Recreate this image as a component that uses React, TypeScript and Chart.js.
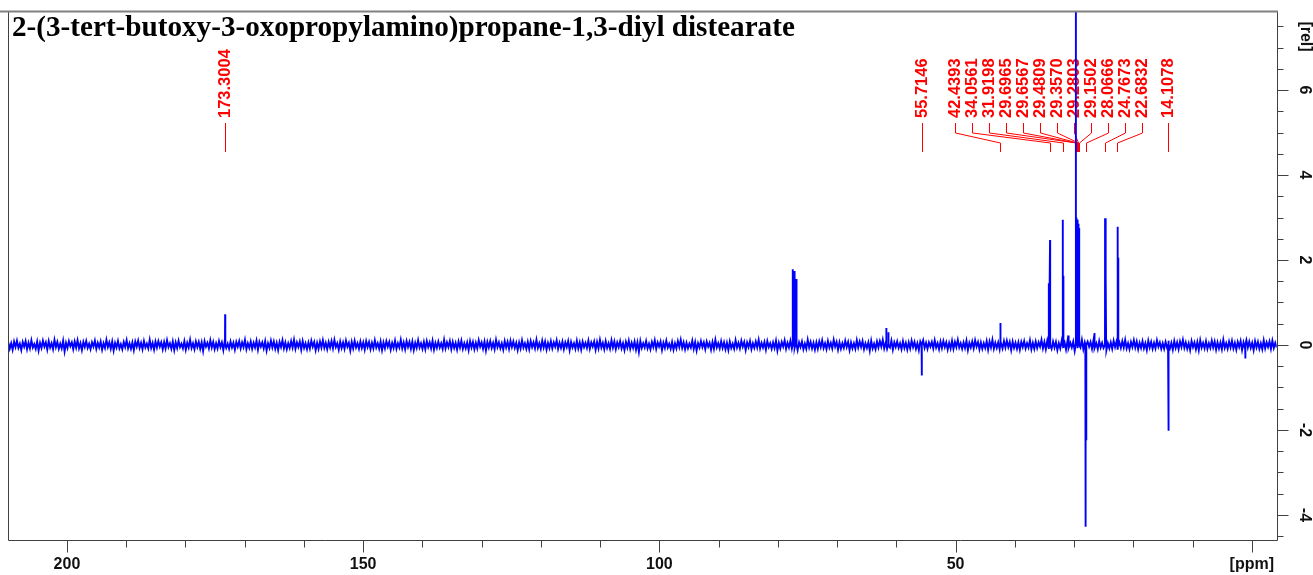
import React, { useEffect, useRef } from 'react';
import { Chart, registerables } from 'chart.js';

Chart.register(...registerables);

const TITLE = '2-(3-tert-butoxy-3-oxopropylamino)propane-1,3-diyl distearate';

// axis ranges (ppm is drawn reversed, high ppm on the left)
const X_MIN = -4.2;
const X_MAX = 209.9;
const Y_MIN = -4.59;
const Y_MAX = 7.86;

// tick labels
const xMajorTicks = [200, 150, 100, 50, 0];
const xMajorLabels = ['200', '150', '100', '50', '[ppm]'];
const xMinorStep = 10;
const yMajorTicks = [-4, -2, 0, 2, 4, 6];
const yMajorLabels = ['-4', '-2', '0', '2', '4', '6'];
const yMinorStep = 0.5;
const yUnitLabel = '[rel]';

// baseline noise, in hundredths of the [rel] unit, sampled evenly from X_MAX down to X_MIN
const baselineNoise = [
  6, -9, 4, -11, 8, -5, 10, -7, 3, -12, 7, -4, 9, -10, 5, -8, 11, -6, 2, -9,
  8, -13, 5, -7, 10, -4, 6, -11, 9, -6, 4, -10, 12, -5, 7, -9, 3, -8, 10, -15,
  5, -7, 9, -3, 6, -10, 8, -6, 11, -8, 4, -12, 7, -5, 9, -7, 3, -10, 6, -4,
  10, -9, 5, -6, 8, -11, 4, -7, 12, -5, 6, -9, 8, -13, 5, -6, 9, -8, 2, -10,
  7, -5, 11, -8, 4, -9, 6, -12, 8, -4, 10, -7, 5, -10, 9, -6, 3, -8, 12, -7,
  5, -11, 8, -6, 9, -4, 6, -10, 7, -8, 11, -5, 4, -9, 8, -12, 6, -7, 10, -5,
  3, -8, 9, -11, 5, -6, 12, -7, 4, -10, 8, -5, 7, -9, 6, -14, 9, -4, 5, -8,
  11, -6, 7, -10, 4, -8, 9, -5, 6, -12, 10, -7, 3, -9, 8, -6, 5, -11, 7, -4,
  9, -8, 6, -5, 12, -10, 4, -7, 8, -9, 5, -6, 10, -11, 7, -4, 6, -8, 9, -13,
  4, -7, 10, -6, 8, -9, 5, -12, 7, -5, 11, -8, 6, -10, 4, -7, 9, -6, 12, -9,
  6, -5, 8, -11, 9, -7, 4, -10, 6, -8, 10, -4, 7, -12, 5, -9, 8, -6, 11, -7,
  5, -10, 7, -6, 9, -8, 12, -5, 4, -11, 8, -7, 6, -9, 10, -4, 5, -13, 7, -8,
  10, -6, 4, -9, 8, -7, 6, -11, 9, -5, 7, -10, 5, -8, 11, -6, 4, -9, 8, -12,
  6, -8, 9, -4, 7, -11, 5, -7, 10, -9, 4, -6, 12, -8, 6, -10, 9, -5, 7, -9,
  8, -12, 5, -7, 11, -6, 4, -9, 7, -10, 9, -5, 6, -8, 10, -11, 5, -7, 8, -6,
  4, -9, 12, -8, 6, -5, 9, -10, 7, -7, 5, -11, 8, -6, 10, -9, 4, -8, 6, -12,
  9, -6, 7, -10, 5, -8, 11, -4, 6, -9, 8, -13, 7, -6, 9, -7, 5, -10, 12, -5,
  6, -8, 4, -11, 9, -6, 7, -9, 10, -5, 8, -7, 5, -12, 6, -8, 11, -6, 4, -9,
  7, -10, 9, -5, 6, -8, 12, -7, 4, -9, 10, -6, 8, -11, 5, -7, 9, -8, 6, -4,
  11, -9, 5, -7, 8, -10, 6, -5, 9, -12, 7, -6, 4, -9, 10, -8, 6, -11, 8, -5,
  5, -7, 10, -9, 6, -4, 8, -11, 7, -8, 12, -6, 5, -10, 9, -7, 4, -9, 11, -6,
  8, -10, 6, -5, 9, -8, 4, -12, 7, -6, 10, -9, 5, -7, 8, -11, 6, -16, 9, -7,
  4, -6, 9, -8, 3, -10, 7, -5, 11, -9, 6, -4, 8, -12, 5, -7, 10, -6, 3, -9,
  7, -11, 4, -8, 9, -5, 12, -7, 6, -10, 5, -8, 3, -6, 10, -9, 7, -13, 4, -6,
  9, -5, 6, -10, 8, -4, 5, -11, 7, -9, 12, -6, 4, -8, 9, -7, 6, -10, 5, -12,
  8, -7, 3, -9, 11, -6, 5, -8, 10, -4, 7, -12, 6, -5, 9, -10, 4, -7, 8, -6,
  12, -8, 5, -6, 7, -11, 9, -5, 4, -9, 6, -7, 10, -13, 5, -8, 7, -4, 11, -9,
  5, -6, 10, -8, 4, -7, 9, -12, 6, -5, 8, -10, 3, -9, 12, -6, 7, -8, 5, -11,
  6, -9, 8, -5, 11, -7, 4, -10, 9, -6, 5, -8, 12, -4, 7, -11, 6, -9, 4, -7,
  10, -5, 7, -12, 6, -8, 4, -9, 11, -6, 8, -5, 9, -10, 4, -7, 6, -13, 10, -8,
  3, -10, 8, -6, 9, -4, 12, -8, 5, -9, 7, -6, 10, -11, 6, -5, 8, -7, 4, -10,
  9, -7, 5, -11, 6, -8, 10, -5, 7, -9, 4, -12, 8, -6, 11, -7, 5, -9, 6, -4,
  7, -8, 11, -6, 4, -10, 8, -7, 9, -5, 6, -11, 5, -8, 10, -9, 7, -5, 12, -6,
  4, -9, 6, -7, 10, -12, 5, -6, 8, -8, 11, -4, 7, -10, 6, -9, 4, -7, 9, -11,
  8, -6, 12, -9, 5, -7, 6, -10, 4, -8, 9, -6, 10, -5, 7, -12, 8, -7, 5, -9,
  6, -11, 7, -5, 9, -8, 4, -6, 11, -10, 5, -9, 8, -7, 6, -4, 12, -8, 7, -10,
  10, -7, 5, -9, 8, -6, 7, -12, 4, -8, 10, -5, 6, -11, 9, -7, 5, -6, 8, -14,
  5, -8, 9, -6, 12, -10, 6, -7, 8, -4, 7, -9, 11, -8, 4, -10, 9, -6, 5, -7,
  7, -12, 4, -8, 6, -9, 10, -5, 8, -11, 6, -7, 9, -6, 12, -8, 4, -10, 7, -5,
  11, -6, 8, -10, 5, -7, 9, -8, 4, -12, 10, -6, 7, -9, 5, -8, 11, -4, 6, -9,
  4, -9, 7, -6, 10, -8, 5, -11, 9, -7, 6, -10, 8, -5, 12, -7, 6, -9, 4, -12,
  9, -5, 6, -10, 7, -12, 11, -6, 5, -8, 9, -9, 4, -7, 10, -6, 8, -11, 6, -8,
  6, -10, 12, -7, 4, -9, 8, -6, 10, -8, 5, -11, 7, -5, 9, -12, 6, -8, 11, -6,
  8, -7, 5, -12, 9, -6, 7, -9, 4, -10, 11, -8, 6, -5, 8, -9, 10, -7, 5, -6,
];

// peaks (ppm, height in [rel])
const peakPpm = [
  173.3, 77.5, 77.2, 76.85, 61.7, 61.35, 55.71, 42.44, 34.25, 34.06, 31.92, 31.8, 31.0,
  29.7, 29.66, 29.48, 29.36, 29.28, 29.15, 28.07, 27.95, 26.6, 24.77, 24.62, 22.68, 22.55,
  14.11, 14.02, 1.1,
];
const peakHeight = [
  0.72, 1.78, 1.74, 1.55, 0.4, 0.3, -0.72, 0.52, 1.45, 2.47, 2.95, 1.63, 0.22,
  10.0, 3.0, 2.95, 2.9, 2.85, 2.75, -4.28, -2.24, 0.28, 2.98, 1.64, 2.78, 2.05,
  -2.02, -1.35, -0.32,
];

// peak-pick labels
const peakLabels = [
  '173.3004', '55.7146', '42.4393', '34.0561', '31.9198', '29.6965', '29.6567', '29.4809',
  '29.3570', '29.2803', '29.1502', '28.0666', '24.7673', '22.6832', '14.1078',
];
const standaloneLabels = ['173.3004', '55.7146', '14.1078'];

// label layout constants
const LABEL_GROUP_START_PPM = 50.08;
const LABEL_SLOT = 17;
const LABEL_TEXT_BOTTOM = 118;
const LABEL_LINE_Y = [123, 133, 143, 152];

function buildSpectrum() {
  const pts: { x: number; y: number }[] = [];
  const n = baselineNoise.length;
  const step = (X_MAX - X_MIN) / (n - 1);
  for (let i = 0; i < n; i++) pts.push({ x: X_MAX - i * step, y: baselineNoise[i] / 100 });
  peakPpm.forEach((p, i) => {
    pts.push({ x: p + 0.03, y: 0 }, { x: p, y: peakHeight[i] }, { x: p - 0.03, y: 0 });
  });
  pts.sort((a, b) => b.x - a.x);
  return pts;
}

const snap = (v: number) => Math.round(v) + 0.5;
const AXIS_FONT = 'bold 16px "Liberation Sans", Arial, sans-serif';

const nmrPlugin = {
  id: 'nmrDecor',
  beforeDatasetsDraw(chart: any) {
    const ctx = chart.ctx as CanvasRenderingContext2D;
    const xs = chart.scales.x;
    ctx.save();
    ctx.strokeStyle = '#ff0000';
    ctx.fillStyle = '#ff0000';
    ctx.lineWidth = 1;
    ctx.font = 'bold 16.5px "Liberation Sans", Arial, sans-serif';
    const groupStart = xs.getPixelForValue(LABEL_GROUP_START_PPM);
    let gi = 0;
    peakLabels.forEach((t) => {
      const v = parseFloat(t);
      const px = snap(xs.getPixelForValue(v));
      const standalone = standaloneLabels.includes(t);
      const col = standalone ? px : snap(groupStart + gi++ * LABEL_SLOT);
      ctx.save();
      ctx.translate(col, LABEL_TEXT_BOTTOM);
      ctx.rotate(-Math.PI / 2);
      ctx.textAlign = 'left';
      ctx.textBaseline = 'middle';
      ctx.fillText(t, 0, 0);
      ctx.restore();
      ctx.beginPath();
      ctx.moveTo(col, LABEL_LINE_Y[0]);
      ctx.lineTo(col, LABEL_LINE_Y[1]);
      ctx.lineTo(px, LABEL_LINE_Y[2]);
      ctx.lineTo(px, LABEL_LINE_Y[3]);
      ctx.stroke();
    });
    ctx.restore();
  },
  afterDraw(chart: any) {
    const ctx = chart.ctx as CanvasRenderingContext2D;
    const { left, right, top, bottom } = chart.chartArea;
    const xs = chart.scales.x;
    const ys = chart.scales.y;
    const L = snap(left), R = snap(right), T = snap(top), B = snap(bottom);
    ctx.save();
    // frame
    ctx.strokeStyle = '#404040';
    ctx.lineWidth = 1;
    ctx.beginPath();
    ctx.moveTo(L, T);
    ctx.lineTo(L, B);
    ctx.lineTo(R, B);
    ctx.lineTo(R, T);
    ctx.stroke();
    ctx.strokeStyle = '#808080';
    ctx.lineWidth = 2;
    ctx.beginPath();
    ctx.moveTo(0, T);
    ctx.lineTo(R + 0.5, T);
    ctx.stroke();

    // x ticks
    ctx.strokeStyle = '#404040';
    ctx.lineWidth = 1;
    ctx.beginPath();
    for (let v = Math.ceil(X_MIN / xMinorStep) * xMinorStep; v <= X_MAX; v += xMinorStep) {
      const px = snap(xs.getPixelForValue(v));
      const major = xMajorTicks.includes(v);
      ctx.moveTo(px, B);
      ctx.lineTo(px, B + (major ? 12 : 7));
    }
    // y ticks
    for (let v = Math.ceil(Y_MIN / yMinorStep) * yMinorStep; v <= Y_MAX; v += yMinorStep) {
      const py = snap(ys.getPixelForValue(v));
      const major = yMajorTicks.includes(v);
      ctx.moveTo(R, py);
      ctx.lineTo(R + (major ? 11 : 6), py);
    }
    ctx.stroke();

    ctx.fillStyle = '#111111';
    ctx.font = AXIS_FONT;
    ctx.textAlign = 'center';
    ctx.textBaseline = 'middle';
    xMajorTicks.forEach((v, i) => {
      ctx.fillText(xMajorLabels[i], xs.getPixelForValue(v), 565);
    });
    const drawRot = (t: string, x: number, y: number) => {
      ctx.save();
      ctx.translate(x, y);
      ctx.rotate(Math.PI / 2);
      ctx.fillText(t, 0, 0);
      ctx.restore();
    };
    yMajorTicks.forEach((v, i) => drawRot(yMajorLabels[i], 1304, ys.getPixelForValue(v)));
    drawRot(yUnitLabel, 1305, 36.5);

    // title
    ctx.fillStyle = '#000000';
    ctx.textAlign = 'left';
    ctx.textBaseline = 'alphabetic';
    ctx.font = 'bold 29px "Liberation Serif", "Times New Roman", serif';
    const w = ctx.measureText(TITLE).width;
    const size = 29 * 783 / w;
    ctx.font = `bold ${size.toFixed(2)}px "Liberation Serif", "Times New Roman", serif`;
    ctx.fillText(TITLE, 12, 36);
    ctx.restore();
  },
};

export default function App() {
  const ref = useRef<HTMLCanvasElement>(null);
  useEffect(() => {
    const canvas = ref.current;
    if (!canvas) return;
    const chart = new Chart(canvas, {
      type: 'scatter',
      data: {
        datasets: [
          {
            data: buildSpectrum(),
            showLine: true,
            borderColor: '#0000ff',
            backgroundColor: '#0000ff',
            borderWidth: 1.9,
            pointRadius: 0,
            pointHoverRadius: 0,
            tension: 0,
            clip: 0,
          } as any,
        ],
      },
      options: {
        responsive: false,
        animation: false,
        devicePixelRatio: 1,
        events: [],
        layout: { padding: { left: 8.3, right: 36.3, top: 11, bottom: 35 } },
        scales: {
          x: { type: 'linear', min: X_MIN, max: X_MAX, reverse: true, display: false },
          y: { type: 'linear', min: Y_MIN, max: Y_MAX, display: false },
        },
        plugins: { legend: { display: false }, tooltip: { enabled: false }, title: { display: false } },
      },
      plugins: [nmrPlugin],
    });
    return () => chart.destroy();
  }, []);
  return (
    <div style={{ position: 'absolute', left: 0, top: 0, width: 1313, height: 575, background: '#ffffff' }}>
      <canvas ref={ref} width={1313} height={575} style={{ display: 'block', width: 1313, height: 575 }} />
    </div>
  );
}
